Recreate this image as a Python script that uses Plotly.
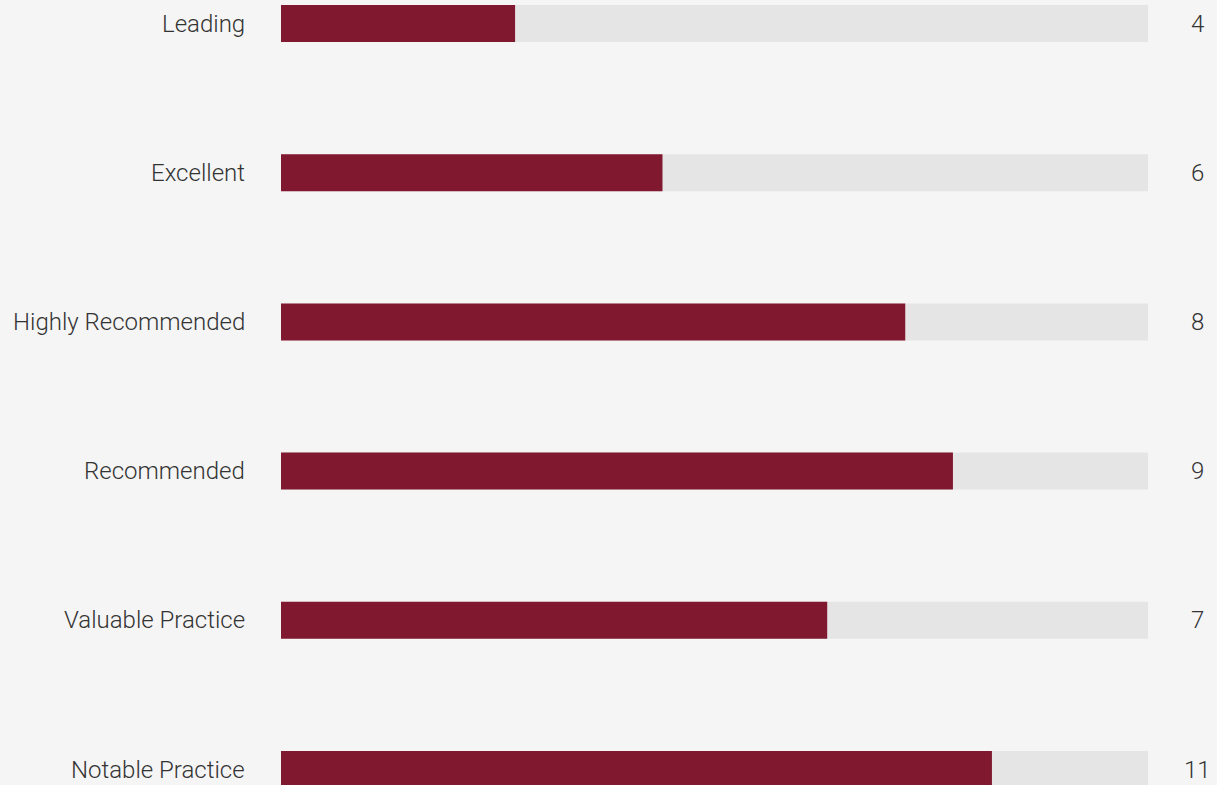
import plotly.graph_objects as go

categories = ["Leading", "Excellent", "Highly Recommended", "Recommended", "Valuable Practice", "Notable Practice"]
fill_pct = [27, 44, 72, 77.5, 63, 82]
counts = [4, 6, 8, 9, 7, 11]
track_max = [100] * len(categories)

W, H = 1217, 785
BG = "#f5f5f5"
TRACK = "#e5e5e5"
FILL = "#80182f"
TEXT = "#333333"
FONT = "Roboto, Helvetica Neue, Arial, sans-serif"

fig = go.Figure()
fig.add_trace(go.Bar(y=categories, x=track_max, orientation="h", marker=dict(color=TRACK, line=dict(width=0)),
                     width=0.248, hoverinfo="skip", showlegend=False))
fig.add_trace(go.Bar(y=categories, x=fill_pct, orientation="h", marker=dict(color=FILL, line=dict(width=0)),
                     width=0.248, showlegend=False))

annotations = []
for c, n in zip(categories, counts):
    annotations.append(dict(x=247 / W, xref="paper", y=c, yref="y", text=c, showarrow=False,
                            xanchor="right", yanchor="middle",
                            font=dict(family=FONT, size=24, color=TEXT, weight=300)))
    annotations.append(dict(x=1197 / W, xref="paper", y=c, yref="y", text=str(n), showarrow=False,
                            xanchor="center", yanchor="middle",
                            font=dict(family=FONT, size=24, color=TEXT, weight=300)))

px_per_unit = 746 / 5
r_top = -23.5 / px_per_unit
r_bot = r_top + H / px_per_unit

fig.update_layout(
    width=W, height=H, barmode="overlay",
    paper_bgcolor=BG, plot_bgcolor=BG,
    margin=dict(l=0, r=0, t=0, b=0),
    xaxis=dict(domain=[281 / W, 1148 / W], range=[0, 100], visible=False, fixedrange=True),
    yaxis=dict(range=[r_bot, r_top], visible=False, type="category", categoryorder="array",
               categoryarray=categories, fixedrange=True),
    annotations=annotations,
)

fig.write_html("out.html", config={"displayModeBar": False},
               post_script="document.body.style.margin='0';document.body.style.overflow='hidden';document.body.style.background='" + BG + "';")
